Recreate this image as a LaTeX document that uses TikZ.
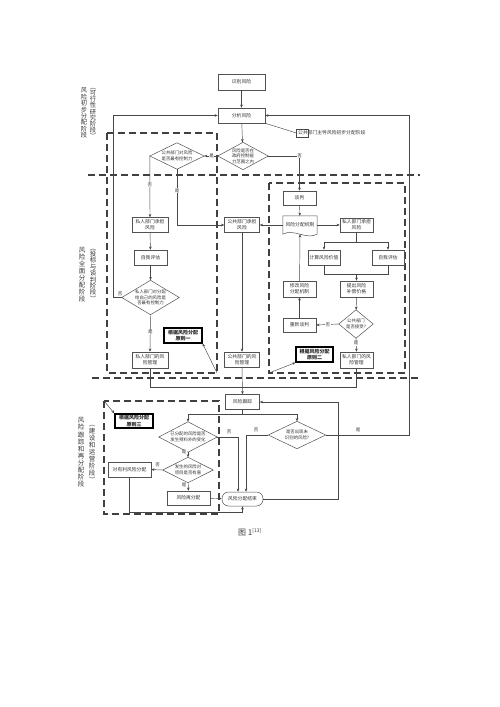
\documentclass[tikz,border=0pt]{standalone}
\usepackage{fontspec}
\newfontfamily\cjk{Noto Sans CJK SC}
\usetikzlibrary{arrows.meta,calc}
\begin{document}
\begin{tikzpicture}[x=1pt,y=-1pt,
  ln/.style={line width=0.45pt, draw=black!72},
  arr/.style={ln, -{Stealth[length=3.2pt,width=2.6pt]}},
  bx/.style={draw=black!68, line width=0.5pt, fill=white, inner sep=0.5pt, align=center, font=\cjk\fontsize{4.8}{5.8}\selectfont, text=black!80},
  dm/.style={inner sep=0pt, align=center, font=\cjk\fontsize{4.4}{5.6}\selectfont, text=black!80},
  thk/.style={bx, draw=black, line width=1.3pt, font=\cjk\bfseries\fontsize{5}{6.2}\selectfont, text=black!85},
  lb/.style={font=\cjk\fontsize{4.5}{4.5}\selectfont, fill=white, inner sep=0.4pt, text=black!80},
  dsh/.style={line width=1.2pt, draw=black!75, dash pattern=on 7pt off 4pt},
  stage/.style={align=center, text=black!78, inner sep=0pt}
]
\fill[white] (0,0) rectangle (500,707);
\useasboundingbox (0,0) rectangle (500,707);

% phase separators and regions
\draw[dsh] (88,175) -- (420,175);
\draw[dsh] (92,378) -- (420,378);
\draw[dsh] (107,133) rectangle (217,373);
\draw[dsh] (269,183) rectangle (405,373);
\draw[dsh] (104,401) rectangle (219,514);
\coordinate (c1) at (217,373);
\coordinate (c2) at (269,373);
\coordinate (c3) at (104,401);

% stage labels
\node[stage, font=\cjk\fontsize{6.3}{6.4}\selectfont] (s1a) at (84,113) {风\\险\\初\\步\\分\\配\\阶\\段};
\node[stage, font=\cjk\fontsize{6.3}{6.1}\selectfont] (s1b) at (93,113.5) {︵\\可\\行\\性\\研\\究\\阶\\段\\︶};
\node[stage, font=\cjk\fontsize{6.5}{7}\selectfont] (s2a) at (82,275) {风\\险\\全\\面\\分\\配\\阶\\段};
\node[stage, font=\cjk\fontsize{6.5}{6.4}\selectfont] (s2b) at (93,275) {︵\\投\\标\\与\\谈\\判\\阶\\段\\︶};
\node[stage, font=\cjk\fontsize{6.5}{7.1}\selectfont] (s3a) at (81,452.5) {风\\险\\跟\\踪\\和\\再\\分\\配\\阶\\段};
\node[stage, font=\cjk\fontsize{6.5}{7}\selectfont] (s3b) at (92,454) {︵\\建\\设\\和\\运\\营\\阶\\段\\︶};

% phase 1
\node[bx, minimum width=47pt, minimum height=16pt] (n1) at (241.5,82) {识别风险};
\node[bx, minimum width=47pt, minimum height=15pt] (n2) at (241.5,115.5) {分析风险};
\node[anchor=west, inner sep=0pt, font=\cjk\fontsize{4.8}{5}\selectfont, text=black!80] (co) at (298,133) {公共部门主导风险初步分配阶段};
\draw[ln] ($(co.west)+(-1.5,-3.8)$) rectangle ($(co.west)+(10,3.8)$);
\node[dm, minimum width=50pt, minimum height=27pt] (d1) at (243,156) {风险是否在\\政府控制能\\力范围之内};
\node[dm, minimum width=54pt, minimum height=26pt] (d2) at (177,156) {公共部门对风险\\是否最有控制力};

% phase 2 left
\node[bx, minimum width=36pt, minimum height=15pt] (pA) at (150,225) {私人部门承担\\风险};
\node[bx, minimum width=33pt, minimum height=15pt] (zp1) at (150.5,257.5) {自我评估};
\node[dm, minimum width=57pt, minimum height=34pt] (d4) at (150.5,297.5) {私人部门对分配\\给自己的风险是\\否最有控制力};
\node[bx, minimum width=36pt, minimum height=16pt] (pmA) at (150,360) {私人部门的风\\险管理};
\node[thk, minimum width=38pt, minimum height=15pt] (yz1) at (183,335.5) {根据风险分配\\原则一};
\node[bx, minimum width=35pt, minimum height=15pt] (gA) at (242,225) {公共部门承担\\风险};
\node[bx, minimum width=35pt, minimum height=15pt] (gm) at (242,359.5) {公共部门的风\\险管理};

% phase 2 right
\node[bx, minimum width=33pt, minimum height=14pt] (tn) at (299.5,198) {谈判};
\node[inner sep=0.5pt, minimum width=34pt, minimum height=18pt, font=\cjk\fontsize{4.8}{5.8}\selectfont, text=black!80] (jz) at (300,225) {\raisebox{1.5pt}{风险分配机制}};
\node[bx, minimum width=33pt, minimum height=14pt] (pB) at (356.5,225) {私人部门承担\\风险};
\node[bx, minimum width=32pt, minimum height=15pt] (js) at (324,257.5) {计算风险价值};
\node[bx, minimum width=32pt, minimum height=15pt] (zp2) at (388,257.5) {自我评估};
\node[bx, minimum width=33pt, minimum height=16pt] (tc) at (356.5,289) {提出风险\\补偿价格};
\node[bx, minimum width=33pt, minimum height=16pt] (xg) at (299.5,289) {修改风险\\分配机制};
\node[dm, minimum width=34pt, minimum height=28pt] (d3) at (356,324) {公共部门\\是否接受?};
\node[bx, minimum width=33pt, minimum height=14pt] (cx) at (299.5,325) {重新谈判};
\node[bx, minimum width=33pt, minimum height=16pt] (pmB) at (356.5,360) {私人部门的风\\险管理};
\node[thk, minimum width=37pt, minimum height=15pt] (yz2) at (314.5,354.5) {根据风险分配\\原则二};

% phase 3
\node[bx, minimum width=34pt, minimum height=15pt] (gz) at (242.5,402) {风险跟踪};
\node[thk, minimum width=38pt, minimum height=14pt] (yz3) at (134,421) {根据风险分配\\原则三};
\node[dm, minimum width=58pt, minimum height=30pt] (d5) at (188,437) {已分配的风险是否\\发生预料外的变化};
\node[dm, minimum width=57pt, minimum height=27pt] (d6) at (297,435) {是否出现未\\识别的风险?};
\node[dm, minimum width=50pt, minimum height=25pt] (d7) at (188,470) {发生的风险对\\项目是否有害};
\node[bx, minimum width=43pt, minimum height=15pt] (yl) at (129.5,469.5) {对有利风险分配};
\node[bx, minimum width=43pt, minimum height=14pt] (zf) at (188.5,498) {风险再分配};
\node[bx, minimum width=41pt, minimum height=14pt, rounded corners=6.5pt] (end) at (242.5,499) {风险分配结束};

% diamond outlines
\foreach \d in {d1,d2,d3,d4,d5,d6,d7}
  \draw[draw=black!68, line width=0.5pt] (\d.north) -- (\d.east) -- (\d.south) -- (\d.west) -- cycle;
% document shape
\draw[draw=black!68, line width=0.5pt] (jz.south east) -- (jz.north east) -- (jz.north west) -- (jz.south west) .. controls +(11,-6) and +(-11,6) .. (jz.south east);

% connectors phase 1
\draw[arr] (n1) -- (n2);
\draw[ln] (n2.south east) -- ($(co.west)+(-1.5,0)$);
\draw[arr] (n2) -- (d1);
\draw[arr] (d1.west) -- (d2.east) node[lb, pos=0.45] {是};
\draw[arr] (d1.east) -| (tn.north) node[lb, pos=0.5] {否};
\draw[arr] (d2.west) -- (pA.north) node[lb, pos=0.47] {否};
\draw[arr] (d2.south) |- (gA.west) node[lb, pos=0.19] {是};

% connectors phase 2 left
\draw[arr] (pA) -- (zp1);
\draw[arr] (zp1) -- (d4);
\draw[arr] (d4.west) -- ++(-8.5,0) |- (n2.west);
\node[lb, anchor=south] at (120,296) {否};
\draw[arr] (d4.south) -- (pmA.north) node[lb, pos=0.47] {是};
\draw[arr] (c1) -- (yz1.south east);
\draw[arr] (gA) -- (gm);

% connectors phase 2 right
\draw[arr] (tn) -- (jz);
\draw[arr] (jz.west) -- (gA.east);
\draw[arr] (jz.east) -- (pB.west);
\coordinate (b1) at (356.5,242);
\draw[ln] (pB.south) -- (b1);
\draw[arr] (b1) -| (js.north);
\draw[arr] (b1) -| (zp2.north);
\coordinate (b2) at (356.5,274);
\draw[ln] (js.south) |- (b2);
\draw[ln] (zp2.south) |- (b2);
\draw[arr] (b2) -- (tc.north);
\draw[arr] (tc) -- (d3);
\draw[arr] (d3.west) -- (cx.east) node[lb, pos=0.48] {否};
\draw[arr] (cx) -- (xg);
\draw[arr] (xg) -- (jz.south);
\draw[arr] (d3.south) -- (pmB.north) node[lb, pos=0.38] {是};
\draw[arr] (c2) -- (yz2.south west);

% to phase 3
\coordinate (b3) at (242,387);
\draw[ln] (pmA.south) |- (b3);
\draw[ln] (pmB.south) |- (b3);
\draw[arr] (gm.south) -- (gz.north);

% phase 3 connectors
\draw[arr] (c3) -- (yz3.north west);
\coordinate (b4) at (242.5,414);
\draw[ln] (gz.south) -- (b4);
\draw[arr] (b4) -| (d5.north);
\draw[arr] (b4) -| (d6.north);
\draw[arr] (d5.east) -| ($(end.north)+(-4.5,0)$);
\node[lb] at (229,431.5) {否};
\draw[arr] (d6.west) -| ($(end.north)+(3.5,0)$);
\node[lb] at (256,430) {否};
\draw[arr] (d6.east) -- (409,435) |- (n2.east);
\node[lb] at (358,430) {是};
\draw[arr] (d5) -- (d7);
\node[lb] at (184,452) {是};
\draw[arr] (d7.west) -- (yl.east);
\node[lb] at (157.5,465) {否};
\draw[arr] (d7) -- (zf);
\node[lb] at (184,485) {是};
\draw[arr] (zf) -- (end);
\draw[arr] (yl.south) |- ($(end.south)+(0,6)$) -- (end.south);
\draw[arr] (end.east) -- (338,499) |- (gz.east);

% caption
\node[font=\cjk\fontsize{8}{8}\selectfont, text=black!75] (cap) at (250,532) {图 1\textsuperscript{\fontsize{5}{5}\selectfont[13]}};
\end{tikzpicture}
\end{document}
